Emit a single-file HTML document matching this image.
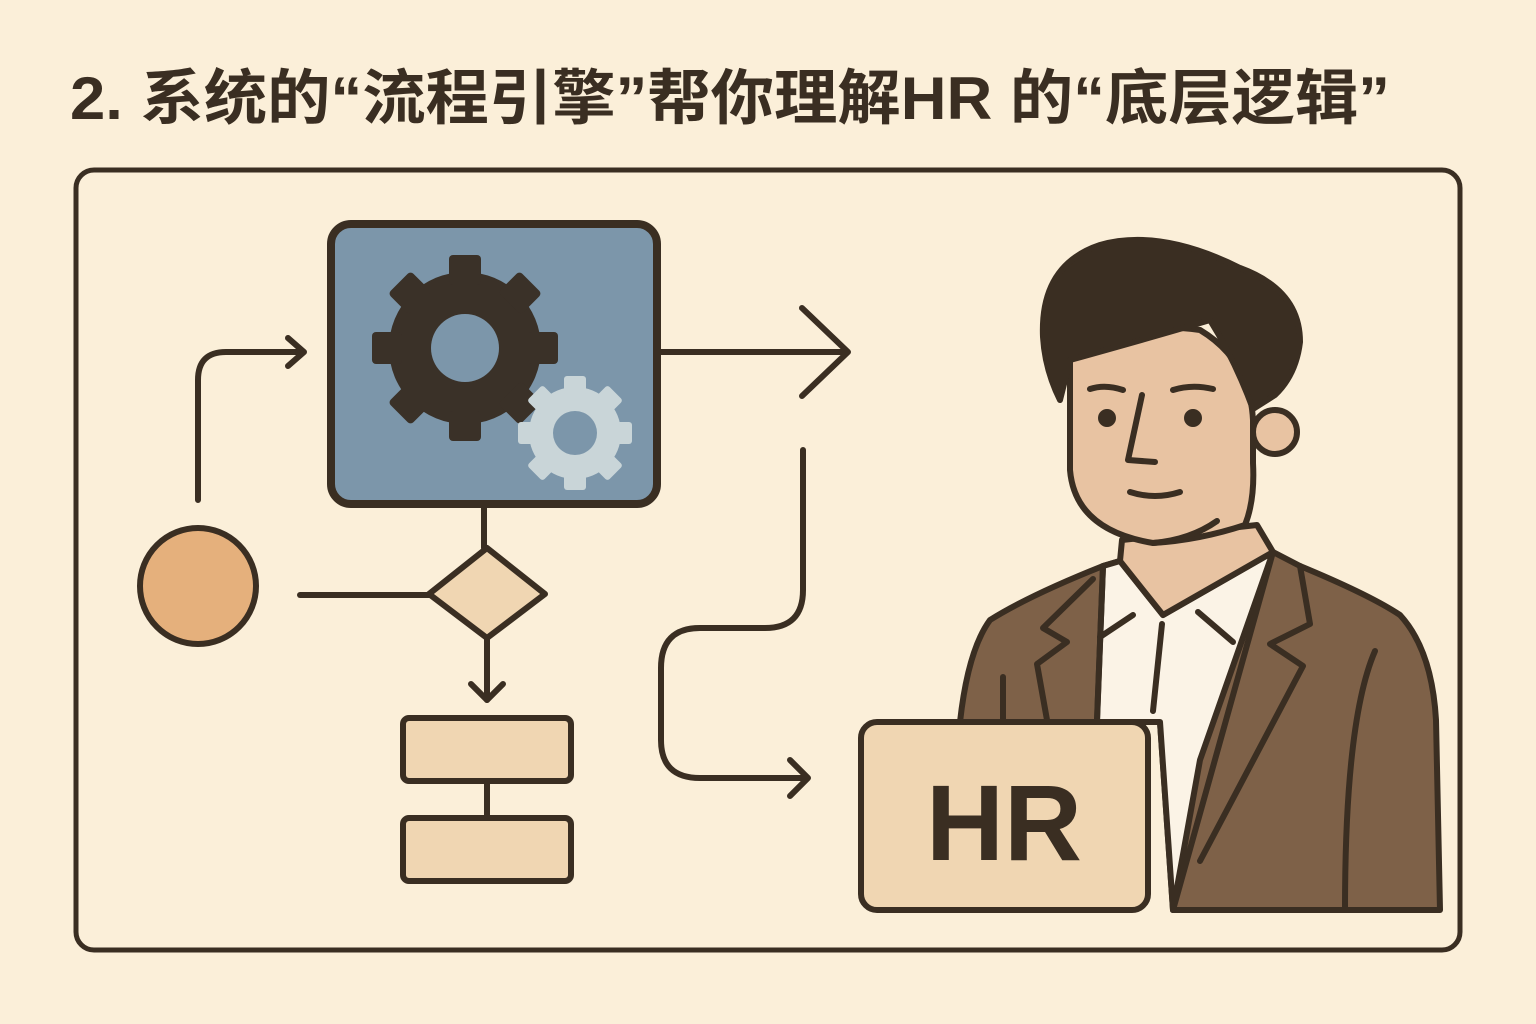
<!DOCTYPE html>
<html><head><meta charset="utf-8"><style>
html,body{margin:0;padding:0;background:#fbefd9;}
svg{display:block}
</style></head><body>
<svg width="1536" height="1024" viewBox="0 0 1536 1024" xmlns="http://www.w3.org/2000/svg">
<rect width="1536" height="1024" fill="#fbefd9"/>
<text x="70" y="119" font-family="Liberation Sans, 'Noto Sans CJK SC', sans-serif" font-weight="bold" font-size="60" fill="#3a2e22" textLength="1320" lengthAdjust="spacingAndGlyphs">2. 系统的“流程引擎”帮你理解HR 的“底层逻辑”</text>
<rect x="76" y="170" width="1384" height="780" rx="18" fill="none" stroke="#3a2e22" stroke-width="5"/>
<g fill="none" stroke="#3a2e22" stroke-width="6" stroke-linecap="round" stroke-linejoin="round">
<!-- gear box -->
<rect x="331" y="224" width="326" height="280" rx="20" fill="#7c96aa" stroke-width="8"/>
<path d="M198 500 V380 Q198 352 226 352 H302"/>
<path d="M288 338 L304 352 L288 366"/>
<path d="M657 352 H846"/>
<path d="M802 308 L848 352 L802 396"/>
<path d="M484 507 V548"/>
<path d="M300 595 H430"/>
<polygon points="487,548 545,594 487,638 429,594" fill="#f0d6b2"/>
<path d="M487 638 V700"/>
<path d="M471 684 L487 700 L503 684"/>
<rect x="403" y="718" width="168" height="63" rx="6" fill="#f0d6b2"/>
<rect x="403" y="818" width="168" height="63" rx="6" fill="#f0d6b2"/>
<path d="M487 781 V818"/>
<circle cx="198" cy="586" r="58" fill="#e5b07c"/>
<path d="M803 450 V590 Q803 628 765 628 H700 Q661 628 661 668 V740 Q661 778 700 778 H806"/>
<path d="M790 760 L808 778 L790 796"/>
</g>
<!-- gears -->
<g transform="translate(465,348)" fill="#3a3128">
<circle r="76"/>
<g id="t"><rect x="-16" y="-93" width="32" height="30" rx="4"/></g>
<use href="#t" transform="rotate(45)"/><use href="#t" transform="rotate(90)"/><use href="#t" transform="rotate(135)"/><use href="#t" transform="rotate(180)"/><use href="#t" transform="rotate(225)"/><use href="#t" transform="rotate(270)"/><use href="#t" transform="rotate(315)"/>
<circle r="34" fill="#7c96aa"/>
</g>
<g transform="translate(575,433)" fill="#c9d5d8">
<circle r="46"/>
<g id="s"><rect x="-11" y="-57" width="22" height="20" rx="3"/></g>
<use href="#s" transform="rotate(45)"/><use href="#s" transform="rotate(90)"/><use href="#s" transform="rotate(135)"/><use href="#s" transform="rotate(180)"/><use href="#s" transform="rotate(225)"/><use href="#s" transform="rotate(270)"/><use href="#s" transform="rotate(315)"/>
<circle r="22" fill="#7c96aa"/>
</g>
<!-- person -->
<g stroke="#3a2e22" stroke-width="6" stroke-linejoin="round" stroke-linecap="round">
<path d="M960 722 Q968 650 990 620 Q1030 595 1103 566 L1120 561 L1273 552 L1300 566 Q1370 595 1400 615 Q1432 650 1436 720 L1440 910 H1173 L1160 722 Z" fill="#7e6148"/>
<path d="M1103 566 L1120 561 L1163 615 L1273 552 L1200 760 L1173 910 L1160 722 L1097 722 Z" fill="#fbf3e6"/>
<path d="M1093 579 L1043 628 L1067 642 L1037 664 L1047 720" fill="none"/>
<path d="M1300 566 L1310 624 L1270 644 L1303 666 L1200 861" fill="none"/>
<path d="M1273 552 L1173 910" fill="none"/>
<path d="M1103 566 L1097 720" fill="none"/>
<path d="M1375 651 Q1345 720 1345 910" fill="none"/>
<path d="M1003 677 V720" fill="none"/>
<path d="M1162 624 L1153 711" fill="none"/>
<path d="M1133 615 L1100 637 M1198 612 L1233 642" fill="none"/>
<path d="M1122 540 L1120 561 L1163 615 L1273 552 L1257 525 Z" fill="#e8c3a2"/>
<circle cx="1275" cy="432" r="22" fill="#e8c3a2"/>
<path d="M1070 350 V470 Q1075 530 1153 543 Q1200 540 1245 525 Q1255 500 1253 463 L1253 420 Q1250 360 1200 330 Q1130 320 1070 350 Z" fill="#e8c3a2"/>
<path d="M1043 337 Q1040 265 1100 245 Q1160 228 1240 268 Q1300 290 1300 342 Q1296 375 1275 395 L1253 409 Q1235 360 1210 320 Q1160 335 1070 360 L1060 400 Q1045 370 1043 337 Z" fill="#3a2e22"/>
<path d="M1090 389 Q1105 384 1123 390 M1173 390 Q1192 384 1213 389" fill="none"/>
<path d="M1142 395 L1128 460 L1155 462" fill="none"/>
<path d="M1130 492 Q1155 500 1180 492" fill="none"/>
<path d="M1217 521 Q1190 540 1153 543" fill="none"/>
<circle cx="1107" cy="418" r="6" fill="#3a2e22"/>
<circle cx="1193" cy="418" r="6" fill="#3a2e22"/>
</g>
<rect x="861" y="722" width="287" height="188" rx="16" fill="#f0d6b2" stroke="#3a2e22" stroke-width="6"/>
<text x="1004" y="860" text-anchor="middle" font-family="Liberation Sans, sans-serif" font-weight="bold" font-size="108" fill="#3a2e22">HR</text>
</svg>
</body></html>
